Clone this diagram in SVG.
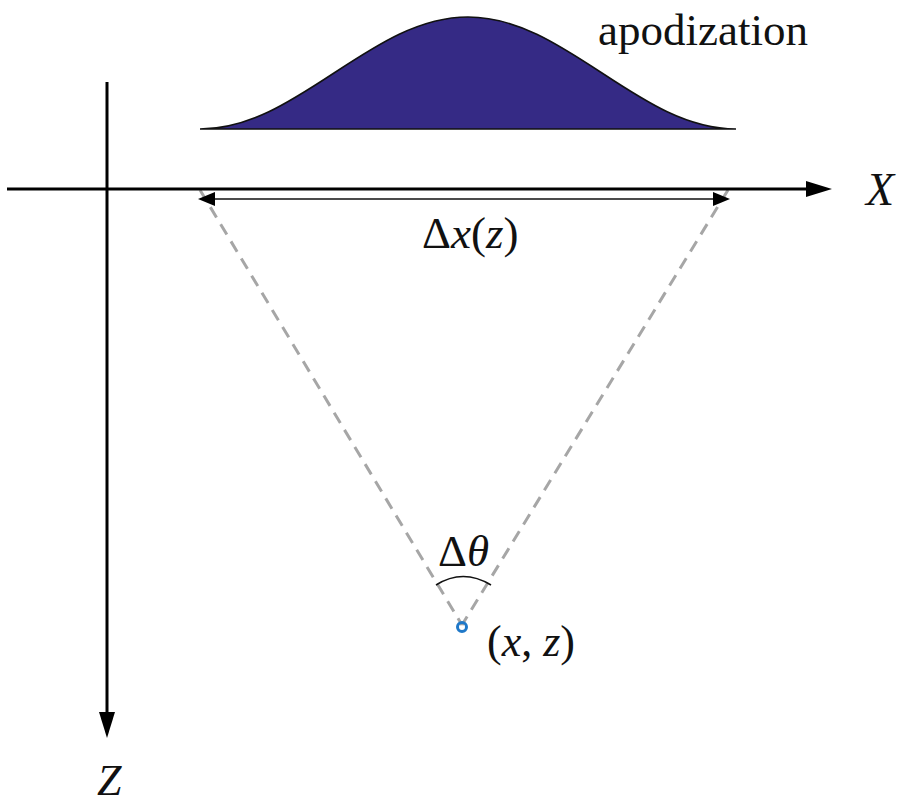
<svg xmlns="http://www.w3.org/2000/svg" width="901" height="805" viewBox="0 0 901 805">
<style>
text{font-family:"Liberation Serif","Times New Roman","DejaVu Serif",serif;fill:#111}
.i{font-style:italic}
.axis{stroke:#000;stroke-width:3;fill:none}
.dash{stroke:#a6a6a6;stroke-width:3;stroke-dasharray:12 8;fill:none}
.head{fill:#000}
</style>
<rect width="901" height="805" fill="#fff"/>
<g id="apodization">
<path d="M200,129 C248.5,129 290.3,101.7 334,73 C377.7,44.3 419.5,17 468,17 C516.5,17 558.3,44.3 602,73 C645.7,101.7 687.5,129 736,129 Z" fill="#352a85" stroke="#111" stroke-width="1.5"/>
<text font-family="Liberation Serif, serif" x="598" y="45" font-size="45">apodization</text>
</g>
<g id="connectors">
<line class="dash" x1="200" y1="190" x2="462" y2="625"/>
<line class="dash" x1="728" y1="190" x2="462" y2="625"/>
<line x1="212" y1="199" x2="716" y2="199" stroke="#111" stroke-width="1.5"/>
<polygon class="head" points="198,199 215,192 215,206"/>
<polygon class="head" points="730,199 713,192 713,206"/>
<path d="M436,585 Q463,568 491,585" fill="none" stroke="#111" stroke-width="1.5"/>
</g>
<g id="x-axis">
<line class="axis" x1="7" y1="189" x2="810" y2="189"/>
<polygon class="head" points="806,181 832,189 806,197"/>
<text font-family="Liberation Serif, serif" class="i" x="866" y="205" font-size="46">X</text>
</g>
<g id="z-axis">
<line class="axis" x1="107" y1="82" x2="107" y2="716"/>
<polygon class="head" points="99,712 107,738 115,712"/>
<text font-family="Liberation Serif, serif" class="i" x="97" y="795" font-size="44">Z</text>
</g>
<g id="delta-x">
<text font-family="Liberation Serif, serif" x="422" y="248" font-size="45">Δ<tspan class="i">x</tspan>(<tspan class="i">z</tspan>)</text>
</g>
<g id="delta-theta">
<text font-family="Liberation Serif, serif" x="438" y="566" font-size="45">Δ<tspan class="i">θ</tspan></text>
</g>
<g id="point">
<circle cx="462" cy="627" r="4.5" fill="none" stroke="#1f78c8" stroke-width="3"/>
<text font-family="Liberation Serif, serif" x="487" y="656" font-size="44">(<tspan class="i">x</tspan>, <tspan class="i">z</tspan>)</text>
</g>
</svg>
